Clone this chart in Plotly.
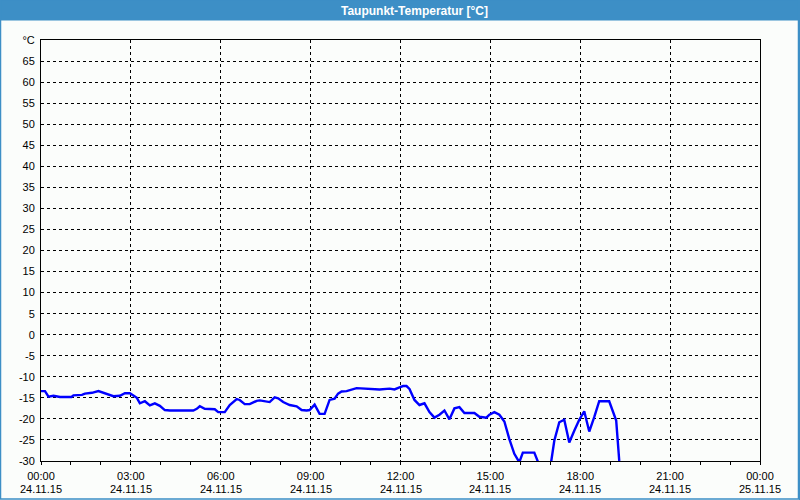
import plotly.graph_objects as go
import pandas as pd

# ---- data ----
times = ["00:00", "00:08", "00:15", "00:25", "00:38", "01:01", "01:05", "01:22", "01:28", "01:42",
         "01:55", "02:02", "02:08", "02:18", "02:25", "02:38", "02:48", "02:58", "03:05", "03:12",
         "03:18", "03:28", "03:38", "03:48", "03:58", "04:08", "04:18", "05:05", "05:12", "05:18",
         "05:28", "05:48", "05:55", "06:08", "06:18", "06:32", "06:38", "06:48", "06:58", "07:12",
         "07:18", "07:32", "07:38", "07:48", "07:55", "08:05", "08:18", "08:32", "08:42", "08:52",
         "08:58", "09:08", "09:18", "09:28", "09:38", "09:48", "09:55", "10:02", "10:12", "10:32",
         "10:58", "11:18", "11:38", "11:48", "11:58", "12:05", "12:12", "12:18", "12:28", "12:38",
         "12:48", "12:58", "13:08", "13:18", "13:28", "13:38", "13:48", "13:58", "14:08", "14:28",
         "14:38", "14:52", "14:58", "15:08", "15:18", "15:28", "15:38", "15:48", "15:58", "16:05",
         "16:28", "16:38", "16:48", "17:02", "17:08", "17:18", "17:28", "17:38", "17:48", "17:58",
         "18:08", "18:18", "18:28", "18:38", "18:58", "19:05", "19:12", "19:18", "19:22"]
dewpoint = [-13.4, -13.4, -14.7, -14.5, -14.8, -14.8, -14.4, -14.3, -14.0, -13.8,
            -13.4, -13.7, -13.8, -14.2, -14.6, -14.5, -13.9, -13.9, -14.4, -15.0,
            -16.3, -15.8, -16.8, -16.3, -16.9, -17.9, -18.0, -18.0, -17.6, -17.0,
            -17.6, -17.7, -18.4, -18.4, -16.7, -15.3, -15.5, -16.5, -16.5, -15.7,
            -15.6, -16.0, -16.0, -14.9, -15.1, -16.0, -16.7, -17.0, -17.9, -18.0,
            -17.9, -16.6, -18.8, -18.8, -15.5, -15.2, -14.0, -13.5, -13.4, -12.7,
            -12.9, -13.0, -12.8, -13.0, -12.5, -12.2, -12.2, -12.9, -15.5, -16.7,
            -16.3, -18.4, -19.7, -19.0, -18.0, -20.1, -17.5, -17.2, -18.6, -18.6,
            -19.5, -19.7, -19.0, -18.4, -19.0, -20.6, -24.8, -28.3, -30.3, -28.0,
            -28.0, -31.0, -33.0, -30.0, -25.2, -20.8, -20.2, -25.6, -22.8, -20.2,
            -18.2, -23.0, -19.6, -15.8, -15.8, -18.0, -20.4, -29.8, -34.0]

x_tick_vals = ["2015-11-24 00:00", "2015-11-24 03:00", "2015-11-24 06:00", "2015-11-24 09:00",
               "2015-11-24 12:00", "2015-11-24 15:00", "2015-11-24 18:00", "2015-11-24 21:00",
               "2015-11-25 00:00"]
x_tick_times = ["00:00", "03:00", "06:00", "09:00", "12:00", "15:00", "18:00", "21:00", "00:00"]
x_tick_dates = ["24.11.15", "24.11.15", "24.11.15", "24.11.15", "24.11.15", "24.11.15",
                "24.11.15", "24.11.15", "25.11.15"]
y_tick_vals = [-30, -25, -20, -15, -10, -5, 0, 5, 10, 15, 20, 25, 30, 35, 40, 45, 50, 55, 60, 65, 70]
y_tick_text = [str(v) for v in y_tick_vals[:-1]] + ["°C"]

title_text = "Taupunkt-Temperatur [°C]"

# ---- figure ----
W, H = 800, 500
L, R, T, B = 41, 760, 40, 461
px = lambda v: (v - L) / (R - L)
py = lambda v: (B - v) / (B - T)

xs = pd.to_datetime(["2015-11-24 " + t for t in times])

fig = go.Figure()
fig.add_trace(go.Scatter(x=xs, y=dewpoint, mode="lines",
                         line=dict(color="#0000ff", width=2.4), hoverinfo="skip"))

FONT = "Liberation Sans, Arial, sans-serif"
BLUE = "#3d8fc6"
DASH = "3px,3px"

fig.update_layout(
    width=W, height=H,
    margin=dict(l=L, r=W - R, t=T, b=H - B, autoexpand=False),
    paper_bgcolor="#fbfdfb", plot_bgcolor="#fbfdfb",
    showlegend=False,
    font=dict(family=FONT, size=11, color="#000000"),
    xaxis=dict(
        type="date",
        range=[x_tick_vals[0], x_tick_vals[-1]],
        tickvals=pd.to_datetime(x_tick_vals), ticktext=x_tick_times,
        showgrid=True, gridcolor="#000000", gridwidth=1, griddash=DASH,
        showline=True, linecolor="#000000", linewidth=1, mirror=True,
        ticks="outside", ticklen=3, tickcolor="#000000",
        minor=dict(dtick=3600000, ticks="outside", ticklen=3, tickcolor="#000000", showgrid=False),
        tickfont=dict(family=FONT, size=11), ticklabelstandoff=2,
        zeroline=False, automargin=False, fixedrange=True,
    ),
    yaxis=dict(
        range=[-30, 70],
        tickvals=y_tick_vals, ticktext=y_tick_text,
        showgrid=True, gridcolor="#000000", gridwidth=1, griddash=DASH,
        showline=True, linecolor="#000000", linewidth=1, mirror=True,
        ticks="", tickfont=dict(family=FONT, size=11), ticklabelstandoff=3,
        zeroline=False, automargin=False, fixedrange=True,
    ),
    shapes=[
        dict(type="rect", xref="paper", yref="paper",
             x0=px(0), x1=px(800), y0=py(20.5), y1=py(0),
             fillcolor=BLUE, line=dict(width=0), layer="above"),
        dict(type="rect", xref="paper", yref="paper",
             x0=px(0.5), x1=px(798.5), y0=py(499), y1=py(0),
             fillcolor="rgba(0,0,0,0)", line=dict(color=BLUE, width=1.5), layer="above"),
        dict(type="line", xref="paper", yref="paper",
             x0=px(799.5), x1=px(799.5), y0=py(500), y1=py(0),
             line=dict(color=BLUE, width=1), layer="above"),
    ],
)

annotations = [dict(text="<b>" + title_text + "</b>", xref="paper", yref="paper",
                    x=px(414), y=py(10.5), xanchor="center", yanchor="middle",
                    showarrow=False, font=dict(family=FONT, size=12, color="#ffffff"))]
for v, d in zip(x_tick_vals, x_tick_dates):
    annotations.append(dict(text=d, x=pd.Timestamp(v), xref="x", yref="paper",
                            y=py(489.5), xanchor="center", yanchor="middle",
                            showarrow=False, font=dict(family=FONT, size=11)))
fig.update_layout(annotations=annotations)

fig.write_html("out.html")
